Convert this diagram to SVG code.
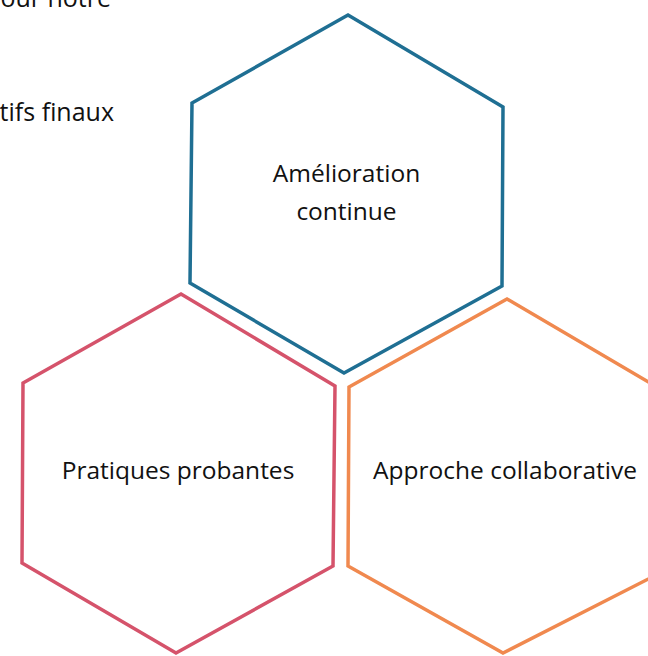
<svg xmlns="http://www.w3.org/2000/svg" width="648" height="656" viewBox="0 0 648 656">
<style>
.hex{fill:#ffffff;stroke-width:3.5;stroke-linejoin:miter}
.lbl{font-family:"Open Sans","Noto Sans","Liberation Sans",sans-serif;font-size:24.5px;fill:#111111;text-anchor:middle}
.side{font-family:"Open Sans","Noto Sans","Liberation Sans",sans-serif;font-size:25px;fill:#111111;text-anchor:end}
</style>
<rect width="648" height="656" fill="#ffffff"/>
<g id="side-text">
<text class="side" x="111" y="7">our notre</text>
<text class="side" x="114" y="121">tifs finaux</text>
</g>
<g id="connectors"/>
<g id="node-amelioration">
<polygon class="hex" stroke="#1f6f93" points="348,15 503,107 502,286 344,373 190,283 192,103"/>
<text class="lbl" x="346.5" y="182">Amélioration</text>
<text class="lbl" x="346.5" y="220">continue</text>
</g>
<g id="node-pratiques">
<polygon class="hex" stroke="#d5536b" points="181,294 335,386 333,566 176,653 22,563 23,383"/>
<text class="lbl" x="178" y="479">Pratiques probantes</text>
</g>
<g id="node-approche">
<polygon class="hex" stroke="#f0894f" points="507,299 662,390 662,572 503,653 348,566 349,387"/>
<text class="lbl" x="505" y="479">Approche collaborative</text>
</g>
</svg>
